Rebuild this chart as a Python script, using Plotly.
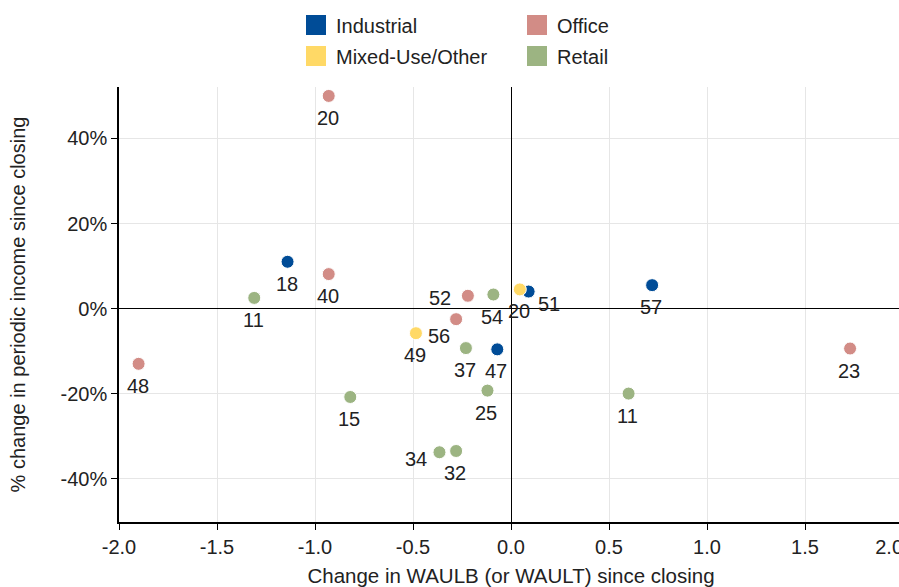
import plotly.graph_objects as go

# ---------------- data ----------------
series_names = ["Industrial", "Office", "Mixed-Use/Other", "Retail"]

industrial_x = [-1.14, 0.09, -0.07, 0.72]
industrial_y = [11.0, 4.0, -9.6, 5.5]
industrial_labels = ["18", "51", "47", "57"]

office_x = [-0.93, -0.93, -1.90, -0.22, -0.28, 1.73]
office_y = [50.0, 8.1, -13.0, 3.0, -2.5, -9.4]
office_labels = ["20", "40", "48", "52", "56", "23"]

mixed_x = [0.045, -0.485]
mixed_y = [4.5, -5.8]
mixed_labels = ["20", "49"]

retail_x = [-1.31, -0.82, -0.09, -0.23, -0.12, 0.60, -0.365, -0.28]
retail_y = [2.5, -20.8, 3.3, -9.3, -19.3, -20.0, -33.8, -33.5]
retail_labels = ["11", "15", "54", "37", "25", "11", "34", "32"]

x_tickvals = [-2.0, -1.5, -1.0, -0.5, 0.0, 0.5, 1.0, 1.5, 2.0]
x_ticktext = ["-2.0", "-1.5", "-1.0", "-0.5", "0.0", "0.5", "1.0", "1.5", "2.0"]
y_tickvals = [-40, -20, 0, 20, 40]
y_ticktext = ["-40%", "-20%", "0%", "20%", "40%"]

x_title = "Change in WAULB (or WAULT) since closing"
y_title = "% change in periodic income since closing"

# ---------------- styles ----------------
colors = {
    "Industrial": "#004C97",
    "Office": "#D28C86",
    "Mixed-Use/Other": "#FFD966",
    "Retail": "#9CB482",
}
# label offsets (px) relative to each point: (xshift, yshift)
B = (-1, -22)
industrial_off = [B, (20, -12), B, B]
office_off = [B, B, B, (-28, -2), (-17, -17), B]
mixed_off = [B, B]
retail_off = [B, B, B, B, B, B, (-23, -7), B]

FONT = "Arial, Liberation Sans, sans-serif"
TXT = "#222222"
FS = 20

# the last x tick label is nudged left (as in the source chart) by trailing spaces
x_ticktext_shown = x_ticktext[:-1] + [x_ticktext[-1] + "&nbsp;" * 5]

series = [
    ("Industrial", industrial_x, industrial_y, industrial_labels, industrial_off),
    ("Office", office_x, office_y, office_labels, office_off),
    ("Mixed-Use/Other", mixed_x, mixed_y, mixed_labels, mixed_off),
    ("Retail", retail_x, retail_y, retail_labels, retail_off),
]

fig = go.Figure()
annotations = []
for name, xs, ys, labs, offs in series:
    fig.add_trace(go.Scatter(
        x=xs, y=ys, mode="markers", name=name, showlegend=False,
        marker=dict(size=13, color=colors[name], line=dict(width=1, color="white")),
    ))
    for x, y, t, (dx, dy) in zip(xs, ys, labs, offs):
        annotations.append(dict(
            x=x, y=y, xref="x", yref="y", text=t, showarrow=False,
            xshift=dx, yshift=dy, font=dict(family=FONT, size=FS, color=TXT),
        ))

# legend entries (square swatches), two rows
legend_rows = {"legend": ["Industrial", "Office"], "legend2": ["Mixed-Use/Other", "Retail"]}
for leg, names in legend_rows.items():
    for name in names:
        fig.add_trace(go.Scatter(
            x=[None], y=[None], mode="markers", name=name, legend=leg,
            marker=dict(symbol="square", size=16, color=colors[name],
                        line=dict(width=4, color=colors[name])),
        ))

legend_common = dict(
    orientation="h", xanchor="left", yanchor="middle",
    font=dict(family=FONT, size=FS, color=TXT),
    entrywidth=176, bgcolor="rgba(0,0,0,0)", borderwidth=0,
)

fig.update_layout(
    width=905, height=587,
    margin=dict(l=119, r=2, t=87, b=65, autoexpand=False),
    paper_bgcolor="white", plot_bgcolor="white",
    font=dict(family=FONT, size=FS, color=TXT),
    annotations=annotations,
    legend=dict(x=(296 - 119) / 784, y=1 + (87 - 25) / 434.7, **legend_common),
    legend2=dict(x=(296 - 119) / 784, y=1 + (87 - 56) / 434.7, **legend_common),
    xaxis=dict(
        range=[-2, 2], tickvals=x_tickvals, ticktext=x_ticktext_shown, automargin=False,
        showgrid=True, gridcolor="#E6E6E6", gridwidth=1,
        zeroline=True, zerolinecolor="black", zerolinewidth=1,
        showline=True, linecolor="black", linewidth=1.5,
        ticks="outside", ticklen=6, tickcolor="black",
        ticklabeloverflow="allow",
        tickfont=dict(family=FONT, size=FS, color=TXT),
        title=dict(text=x_title, font=dict(family=FONT, size=20.5, color=TXT), standoff=17),
    ),
    yaxis=dict(
        range=[-50.2, 52.1], tickvals=y_tickvals, ticktext=y_ticktext, automargin=False,
        showgrid=True, gridcolor="#E6E6E6", gridwidth=1,
        zeroline=True, zerolinecolor="black", zerolinewidth=1,
        showline=True, linecolor="black", linewidth=1.5,
        ticks="outside", ticklen=6, tickcolor="black",
        tickfont=dict(family=FONT, size=FS, color=TXT),
        title=dict(text=y_title, font=dict(family=FONT, size=FS, color=TXT), standoff=30),
    ),
)

fig.write_html(
    "out.html",
    config={"displayModeBar": False},
    post_script="document.body.style.margin='0';document.body.style.overflow='hidden';",
)
